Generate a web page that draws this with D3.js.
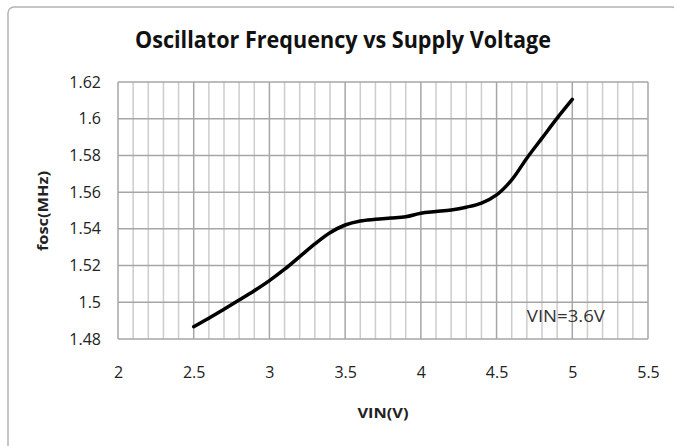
<!DOCTYPE html>
<html>
<head>
<meta charset="utf-8">
<script src="https://cdn.jsdelivr.net/npm/d3@7"></script>
<style>
  body { margin: 0; background: #fff; }
  text { font-family: "Open Sans", sans-serif; }
</style>
</head>
<body>
<div id="chart"></div>
<script>
// Data
const vin = [2.5, 2.6, 2.7, 2.8, 2.9, 3.0, 3.1, 3.2, 3.3, 3.4, 3.5, 3.6, 3.7, 3.8, 3.9, 4.0, 4.1, 4.2, 4.3, 4.4, 4.5, 4.6, 4.7, 4.8, 4.9, 5.0];
const fosc = [1.4867, 1.4913, 1.4962, 1.5012, 1.5063, 1.5118, 1.518, 1.5249, 1.5318, 1.5379, 1.5421, 1.5443, 1.5452, 1.5459, 1.5466, 1.5485, 1.5494, 1.5503, 1.5518, 1.554, 1.5585, 1.5667, 1.5785, 1.5894, 1.6003, 1.6105];
const xTicks = [2, 2.5, 3, 3.5, 4, 4.5, 5, 5.5];
const yTicks = [1.48, 1.5, 1.52, 1.54, 1.56, 1.58, 1.6, 1.62];
const xMinor = d3.range(21, 55).map(d => d / 10);

const W = 674, H = 446;
const margin = { top: 82, right: 26, bottom: 107, left: 118 };
const width = W - margin.left - margin.right;
const height = H - margin.top - margin.bottom;

const svg = d3.select("#chart").append("svg")
    .attr("width", W)
    .attr("height", H);

// outer chart frame
svg.append("rect")
    .attr("x", 8).attr("y", 7)
    .attr("width", 670).attr("height", 445)
    .attr("rx", 6)
    .attr("fill", "none")
    .attr("stroke", "#b4b4b4")
    .attr("stroke-width", 1.5);

// title
svg.append("text")
    .attr("x", 343).attr("y", 48)
    .attr("text-anchor", "middle")
    .attr("font-size", 23)
    .attr("font-weight", "bold")
    .attr("textLength", 416)
    .attr("lengthAdjust", "spacingAndGlyphs")
    .attr("fill", "#111")
    .text("Oscillator Frequency vs Supply Voltage");

const g = svg.append("g")
    .attr("transform", `translate(${margin.left},${margin.top})`);

const x = d3.scaleLinear().domain([2, 5.5]).range([0, width]);
const y = d3.scaleLinear().domain([1.48, 1.62]).range([height, 0]);

// minor vertical grid
g.append("g").selectAll("line")
  .data(xMinor.filter(d => Math.abs(d * 2 - Math.round(d * 2)) > 1e-6))
  .join("line")
    .attr("x1", d => x(d)).attr("x2", d => x(d))
    .attr("y1", 0).attr("y2", height)
    .attr("stroke", "#cdcdcd")
    .attr("stroke-width", 1.5);

// major vertical grid
g.append("g").selectAll("line")
  .data(xTicks)
  .join("line")
    .attr("x1", d => x(d)).attr("x2", d => x(d))
    .attr("y1", 0).attr("y2", height)
    .attr("stroke", "#a6a6a6")
    .attr("stroke-width", 1.5);

// horizontal grid
g.append("g").selectAll("line")
  .data(yTicks)
  .join("line")
    .attr("x1", 0).attr("x2", width)
    .attr("y1", d => y(d)).attr("y2", d => y(d))
    .attr("stroke", "#a6a6a6")
    .attr("stroke-width", 1.5);

// axes (labels only)
const xAxis = g.append("g")
    .attr("transform", `translate(0,${height})`)
    .call(d3.axisBottom(x).tickValues(xTicks).tickSize(0).tickPadding(28).tickFormat(d3.format("")));
const yAxis = g.append("g")
    .call(d3.axisLeft(y).tickValues(yTicks).tickSize(0).tickPadding(17).tickFormat(d => +d.toFixed(2)));
[xAxis, yAxis].forEach(a => {
  a.select(".domain").remove();
  a.selectAll("text")
    .attr("font-family", "Open Sans, sans-serif")
    .attr("font-size", 16)
    .attr("fill", "#222");
});

// data line
const line = d3.line()
    .x((d, i) => x(vin[i]))
    .y(d => y(d))
    .curve(d3.curveCatmullRom);

g.append("path")
    .datum(fosc)
    .attr("fill", "none")
    .attr("stroke", "#000")
    .attr("stroke-width", 3.5)
    .attr("stroke-linecap", "round")
    .attr("d", line);

// annotation
g.append("text")
    .attr("x", x(4.7)).attr("y", y(1.4893))
    .attr("font-size", 16)
    .attr("textLength", 78)
    .attr("lengthAdjust", "spacingAndGlyphs")
    .attr("fill", "#333")
    .text("VIN=3.6V");

// axis titles
svg.append("text")
    .attr("x", margin.left + width / 2).attr("y", 418)
    .attr("text-anchor", "middle")
    .attr("font-size", 15)
    .attr("font-weight", "bold")
    .attr("textLength", 51)
    .attr("lengthAdjust", "spacingAndGlyphs")
    .attr("fill", "#222")
    .text("VIN(V)");

svg.append("text")
    .attr("transform", "translate(48,211) rotate(-90)")
    .attr("text-anchor", "middle")
    .attr("font-size", 14)
    .attr("font-weight", "bold")
    .attr("textLength", 80)
    .attr("lengthAdjust", "spacingAndGlyphs")
    .attr("fill", "#222")
    .text("fosc(MHz)");
</script>
</body>
</html>
